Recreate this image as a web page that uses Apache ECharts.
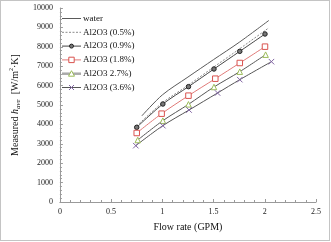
<!DOCTYPE html>
<html>
<head>
<meta charset="utf-8">
<script src="https://cdn.jsdelivr.net/npm/echarts@6/dist/echarts.min.js"></script>
<style>
html,body{margin:0;padding:0;background:#fff;}
#wrap{position:absolute;left:0;top:0;width:330px;height:241px;box-sizing:border-box;border:1px solid #c4c4c4;}
#chart{position:absolute;left:0;top:0;width:331px;height:242px;}
</style>
</head>
<body>
<div id="wrap"></div>
<div id="chart"></div>
<script>
// ---- data ----
const seriesNames = ['water', 'Al2O3 (0.5%)', 'Al2O3 (0.9%)', 'Al2O3 (1.8%)', 'Al2O3 2.7%)', 'Al2O3 (3.6%)'];

const waterX = [0.80, 1.00, 1.25, 1.50, 1.75, 2.04];
const waterY = [4440, 5520, 6440, 7340, 8230, 9360];

const al05X = [0.75, 1.00, 1.25, 1.50, 1.75, 2.04];
const al05Y = [3920, 5110, 6010, 6950, 7880, 8980];

const al09X = [0.75, 1.005, 1.255, 1.504, 1.756, 2.002];
const al09Y = [3850, 5050, 5945, 6856, 7766, 8660];

const al18X = [0.75, 0.993, 1.255, 1.517, 1.756, 2.002];
const al18Y = [3557, 4553, 5481, 6357, 7165, 8007];

const al27X = [0.76, 1.005, 1.255, 1.504, 1.756, 2.008];
const al27Y = [3196, 4192, 5034, 5928, 6718, 7595];

const al36X = [0.741, 1.005, 1.261, 1.539, 1.756, 2.065];
const al36Y = [2904, 3935, 4742, 5619, 6306, 7234];

const xTicks = [0, 0.5, 1, 1.5, 2, 2.5];
const yTicks = [0, 1000, 2000, 3000, 4000, 5000, 6000, 7000, 8000, 9000, 10000];

function zip(xs, ys) { return xs.map((x, i) => [x, ys[i]]); }

const serif = "'Liberation Serif', 'Times New Roman', Times, serif";

// series styles
const styles = [
  {line: {color: '#5a5a5a', width: 1}, symbol: 'none'},
  {line: {color: '#8a8a8a', width: 1, type: [2, 1.5]}, symbol: 'none'},
  {line: {color: '#444', width: 1}, symbol: 'circle', size: 4.5, item: {color: '#777', borderColor: '#222', borderWidth: 1}},
  {line: {color: '#e07a78', width: 1}, symbol: 'rect', size: 5.5, item: {color: '#fff', borderColor: '#d9534f', borderWidth: 1}},
  {line: {color: '#555', width: 1}, symbol: 'triangle', size: 5.5, item: {color: '#fff', borderColor: '#9bbb59', borderWidth: 1}},
  {line: {color: '#555', width: 1}, symbol: 'path://M0,0L10,10M10,0L0,10', size: 5.5, item: {color: '#8064a2', borderColor: '#8064a2', borderWidth: 1}}
];
const legendLine = [
  {stroke: '#5a5a5a', lineWidth: 1},
  {stroke: '#8a8a8a', lineWidth: 1, lineDash: [2, 1.5]},
  {stroke: '#444', lineWidth: 1},
  {stroke: '#e07a78', lineWidth: 1},
  {stroke: '#aaaaaa', lineWidth: 2.5},
  {stroke: '#555', lineWidth: 1}
];

// manual legend (graphic)
const lg = {x0: 62, x1: 81, y0: 18.5, dy: 13.8, tx: 83};
const graphics = [];
seriesNames.forEach((n, i) => {
  const y = lg.y0 + lg.dy * i;
  const cx = (lg.x0 + lg.x1) / 2;
  graphics.push({type: 'line', shape: {x1: lg.x0, y1: y, x2: lg.x1, y2: y}, style: legendLine[i], silent: true});
  if (i === 2) {
    graphics.push({type: 'circle', shape: {cx: cx, cy: y, r: 2}, style: {fill: '#777', stroke: '#222', lineWidth: 1}, silent: true});
  } else if (i === 3) {
    graphics.push({type: 'rect', shape: {x: cx - 2.7, y: y - 2.7, width: 5.4, height: 5.4}, style: {fill: '#fff', stroke: '#d9534f', lineWidth: 1}, silent: true});
  } else if (i === 4) {
    graphics.push({type: 'polygon', shape: {points: [[cx, y - 3], [cx + 3, y + 2.5], [cx - 3, y + 2.5]]}, style: {fill: '#fff', stroke: '#9bbb59', lineWidth: 1}, silent: true});
  } else if (i === 5) {
    graphics.push({type: 'line', shape: {x1: cx - 2.5, y1: y - 2.5, x2: cx + 2.5, y2: y + 2.5}, style: {stroke: '#8064a2', lineWidth: 1}, silent: true});
    graphics.push({type: 'line', shape: {x1: cx - 2.5, y1: y + 2.5, x2: cx + 2.5, y2: y - 2.5}, style: {stroke: '#8064a2', lineWidth: 1}, silent: true});
  }
  graphics.push({type: 'text', x: lg.tx, y: y, style: {text: n, font: '9px ' + serif, fill: '#111', textVerticalAlign: 'middle', verticalAlign: 'middle'}, silent: true});
});

const chart = echarts.init(document.getElementById('chart'), null, {renderer: 'canvas'});

const allX = [waterX, al05X, al09X, al18X, al27X, al36X];
const allY = [waterY, al05Y, al09Y, al18Y, al27Y, al36Y];

const option = {
  animation: false,
  backgroundColor: 'transparent',
  textStyle: {fontFamily: serif},
  grid: {left: 52, right: 15, top: 8, bottom: 40, containLabel: false},
  graphic: graphics,
  xAxis: {
    type: 'value', min: xTicks[0], max: xTicks[xTicks.length - 1], interval: 0.5,
    name: 'Flow rate (GPM)', nameLocation: 'middle', nameGap: 20,
    nameTextStyle: {fontFamily: serif, fontSize: 10, color: '#111'},
    axisLine: {show: true, lineStyle: {color: '#9a9a9a', width: 1}},
    axisTick: {show: true, inside: true, length: 3, lineStyle: {color: '#9a9a9a'}},
    minorTick: {show: true, splitNumber: 5, length: 2, lineStyle: {color: '#9a9a9a'}},
    splitLine: {show: false},
    axisLabel: {fontFamily: serif, fontSize: 8, color: '#222', margin: 6,
      formatter: v => String(v)}
  },
  yAxis: {
    type: 'value', min: yTicks[0], max: yTicks[yTicks.length - 1], interval: 1000,
    name: '{a|Measured }{i|h}{s|ave}{a|  [W/m}{p|2}{a|·K]}',
    nameLocation: 'middle', nameGap: 34, nameRotate: 90,
    nameTextStyle: {
      fontFamily: serif, fontSize: 10, color: '#111',
      rich: {
        a: {fontFamily: serif, fontSize: 10, color: '#111', lineHeight: 14, verticalAlign: 'middle'},
        i: {fontFamily: serif, fontSize: 10, fontStyle: 'italic', color: '#111', lineHeight: 14, verticalAlign: 'middle'},
        s: {fontFamily: serif, fontSize: 7, fontStyle: 'italic', color: '#111', lineHeight: 14, verticalAlign: 'bottom', padding: [4, 0, 0, 0]},
        p: {fontFamily: serif, fontSize: 6, color: '#111', lineHeight: 14, verticalAlign: 'top', padding: [0, 0, 5, 0]}
      }
    },
    axisLine: {show: true, lineStyle: {color: '#9a9a9a', width: 1}},
    axisTick: {show: true, inside: true, length: 3, lineStyle: {color: '#9a9a9a'}},
    minorTick: {show: true, splitNumber: 5, length: 2, lineStyle: {color: '#9a9a9a'}},
    splitLine: {show: false},
    axisLabel: {fontFamily: serif, fontSize: 8, color: '#222', margin: 7,
      formatter: v => String(v)}
  },
  series: seriesNames.map((n, i) => ({
    name: n, type: 'line', data: zip(allX[i], allY[i]), smooth: 0.3,
    symbol: styles[i].symbol, symbolSize: styles[i].size || 4,
    lineStyle: styles[i].line,
    itemStyle: styles[i].item || {color: styles[i].line.color}
  }))
};
chart.setOption(option);
</script>
</body>
</html>
